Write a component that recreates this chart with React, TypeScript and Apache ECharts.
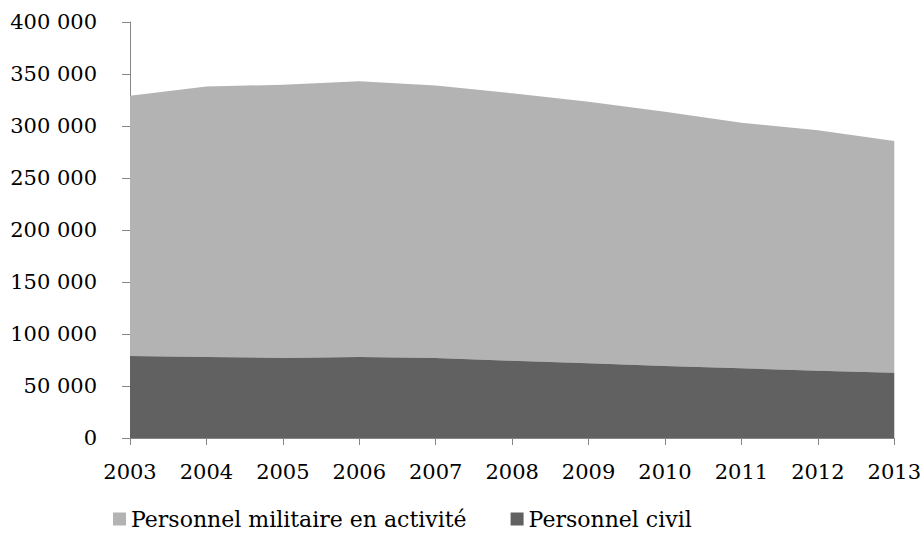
import React, { useEffect, useRef } from "react";
import * as echarts from "echarts";

const years = ["2003", "2004", "2005", "2006", "2007", "2008", "2009", "2010", "2011", "2012", "2013"];
const civil = [78800, 78000, 77000, 78000, 77000, 74300, 71800, 69200, 67000, 64700, 62800];
const military = [250200, 260000, 262700, 265000, 262000, 257100, 251600, 244600, 236200, 231300, 222800];
const seriesNames = ["Personnel militaire en activité", "Personnel civil"];

const FONT = "DejaVu Serif";

function fmt(v: number): string {
  return String(v).replace(/\B(?=(\d{3})+(?!\d))/g, " ");
}

export default function App() {
  const ref = useRef<HTMLDivElement>(null);
  useEffect(() => {
    if (!ref.current) return;
    const chart = echarts.init(ref.current, null, { renderer: "svg" });
    chart.setOption({
      animation: false,
      textStyle: { fontFamily: FONT },
      grid: { left: 130, right: 29, top: 22, bottom: 98, containLabel: false },
      legend: {
        data: seriesNames,
        left: 108,
        top: 503,
        itemWidth: 13,
        itemHeight: 13,
        itemGap: 44,
        icon: "rect",
        textStyle: { fontFamily: FONT, fontSize: 22, color: "#000" },
      },
      xAxis: {
        type: "category",
        data: years,
        boundaryGap: false,
        axisLine: { lineStyle: { color: "#868686", width: 1 } },
        axisTick: { show: true, length: 7, alignWithLabel: true, lineStyle: { color: "#868686" } },
        axisLabel: { color: "#000", fontSize: 21, fontFamily: FONT, margin: 23 },
        splitLine: { show: false },
      },
      yAxis: {
        type: "value",
        min: 0,
        max: 400000,
        interval: 50000,
        axisLine: { show: true, lineStyle: { color: "#868686", width: 1 } },
        axisTick: { show: true, length: 8, lineStyle: { color: "#868686" } },
        axisLabel: { color: "#000", fontSize: 21, fontFamily: FONT, margin: 33, formatter: (v: number) => fmt(v) },
        splitLine: { show: false },
      },
      series: [
        {
          name: seriesNames[1],
          type: "line",
          stack: "total",
          data: civil,
          symbol: "none",
          lineStyle: { width: 0 },
          itemStyle: { color: "#616161" },
          areaStyle: { color: "#616161", opacity: 1 },
          z: 2,
        },
        {
          name: seriesNames[0],
          type: "line",
          stack: "total",
          data: military,
          symbol: "none",
          lineStyle: { width: 0 },
          itemStyle: { color: "#b3b3b3" },
          areaStyle: { color: "#b3b3b3", opacity: 1 },
          z: 1,
        },
      ],
    });
    return () => chart.dispose();
  }, []);
  return <div ref={ref} style={{ width: 924, height: 536, position: "absolute", left: 0, top: 0 }} />;
}
